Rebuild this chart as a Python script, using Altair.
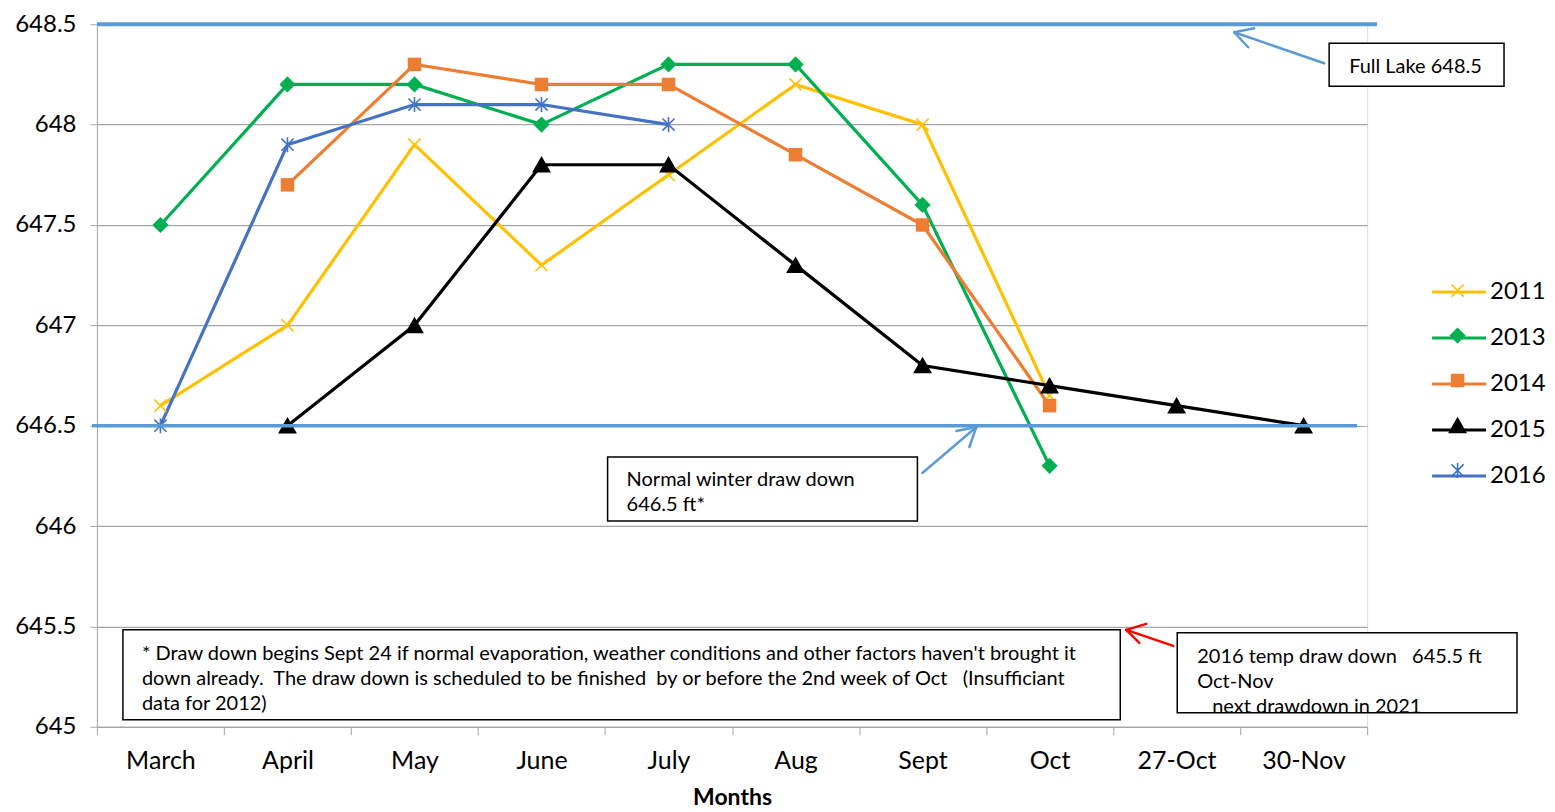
import altair as alt
import pandas as pd

months = ["March", "April", "May", "June", "July", "Aug", "Sept", "Oct", "27-Oct", "30-Nov"]
years = ["2011", "2013", "2014", "2015", "2016"]
colors = ["#FFC000", "#00B050", "#ED7D31", "#000000", "#4472C4"]

v2011 = [646.6, 647.0, 647.9, 647.3, 647.75, 648.2, 648.0, 646.65, None, None]
v2013 = [647.5, 648.2, 648.2, 648.0, 648.3, 648.3, 647.6, 646.3, None, None]
v2014 = [None, 647.7, 648.3, 648.2, 648.2, 647.85, 647.5, 646.6, None, None]
v2015 = [None, 646.5, 647.0, 647.8, 647.8, 647.3, 646.8, 646.7, 646.6, 646.5]
v2016 = [646.5, 647.9, 648.1, 648.1, 648.0, None, None, None, None, None]

y_ticks = [645, 645.5, 646, 646.5, 647, 647.5, 648, 648.5]
full_lake = 648.5
normal_draw = 646.5

# marker shapes (unit box, scaled by sqrt(size)/2), all as filled outlines
X_MARK = ("M-0.408,-0.492L0.492,0.408L0.408,0.492L-0.492,-0.408Z"
          "M-0.492,0.408L0.408,-0.492L0.492,-0.408L-0.408,0.492Z")
shapes = [
    X_MARK,
    "M0,-0.6L0.6,0L0,0.6L-0.6,0Z",
    "M-0.5,-0.5H0.5V0.5H-0.5Z",
    "M0,-0.64L0.7,0.58H-0.7Z",
    X_MARK + "M0.06,-0.56L0.06,0.56L-0.06,0.56L-0.06,-0.56Z",
]

rows = []
for yr, vals in zip(years, [v2011, v2013, v2014, v2015, v2016]):
    for m, v in zip(months, vals):
        if v is not None:
            rows.append({"month": m, "level": v, "year": yr, "yr2": yr})
df = pd.DataFrame(rows)

W, H = 1271, 703
FONT = "Lato"

x_enc = alt.X("month:N", sort=months, scale=alt.Scale(domain=months, paddingInner=0, paddingOuter=0),
              axis=alt.Axis(title="Months", titleFontSize=23, titleFontWeight="bold", titleColor="#000",
                            titlePadding=13, labelFontSize=25, labelColor="#000", labelAngle=0,
                            labelPadding=14, tickBand="extent", tickSize=8, tickColor="#A6A6A6",
                            domainColor="#A6A6A6", grid=False, labelFont=FONT, titleFont=FONT))
y_enc = alt.Y("level:Q", scale=alt.Scale(domain=[645, 648.5], nice=False, zero=False),
              axis=alt.Axis(title=None, values=y_ticks, format="~g", labelFontSize=24, labelColor="#000",
                            labelPadding=14, tickSize=7, tickColor="#A6A6A6", domainColor="#A6A6A6",
                            gridColor="#A6A6A6", gridWidth=1.2, labelFont=FONT))

LEG_X, LEG_Y = 1348, 253

line_legend = alt.Legend(orient="none", legendX=LEG_X, legendY=LEG_Y, title=None,
                         symbolType="M-2,0H2", symbolSize=729, symbolStrokeWidth=3,
                         labelFontSize=24, labelColor="#000", labelFont=FONT, rowPadding=19,
                         labelOffset=16, padding=0, zindex=0)
shape_legend = alt.Legend(orient="none", legendX=LEG_X, legendY=LEG_Y, title=None,
                          symbolSize=729, symbolStrokeWidth=0, symbolOpacity=1,
                          labelExpr="''", labelFontSize=24, labelFont=FONT,
                          rowPadding=19, labelOffset=16, padding=0, zindex=1)

base = alt.Chart(df)

lines = base.mark_line(strokeWidth=3.2).encode(
    x=x_enc, y=y_enc,
    stroke=alt.Stroke("yr2:N", scale=alt.Scale(range=colors), legend=line_legend),
    detail="year:N",
)

points = base.mark_point(size=729, filled=True, opacity=1).encode(
    x=alt.X("month:N", sort=months), y="level:Q",
    color=alt.Color("year:N", scale=alt.Scale(domain=years, range=colors), legend=shape_legend),
    shape=alt.Shape("year:N", scale=alt.Scale(domain=years, range=shapes), legend=shape_legend),
)

# reference lines
ref_full = alt.Chart(pd.DataFrame({"v": [full_lake]})).mark_rule(color="#5B9BD5", strokeWidth=4).encode(
    y="v:Q", x=alt.value(0), x2=alt.value(1281))
ref_norm = alt.Chart(pd.DataFrame({"v": [normal_draw]})).mark_rule(color="#5B9BD5", strokeWidth=3.5).encode(
    y="v:Q", x=alt.value(-5), x2=alt.value(1261))


def seg(x1, y1, x2, y2, color, w=2.5):
    return alt.Chart(pd.DataFrame({"a": [0]})).mark_rule(color=color, strokeWidth=w, strokeCap="round").encode(
        x=alt.value(x1), y=alt.value(y1), x2=alt.value(x2), y2=alt.value(y2))


def box(x1, y1, x2, y2):
    return alt.Chart(pd.DataFrame({"a": [0]})).mark_rect(fill="white", stroke="black", strokeWidth=1.5).encode(
        x=alt.value(x1), y=alt.value(y1), x2=alt.value(x2), y2=alt.value(y2))


def txt(x, y, s, size=20):
    return alt.Chart(pd.DataFrame({"a": [0]})).mark_text(align="left", baseline="middle", fontSize=size,
                                                         font=FONT, color="black").encode(
        x=alt.value(x), y=alt.value(y), text=alt.value(s.replace(" ", "\u00a0")))


BLUE = "#5B9BD5"
arrows = [
    seg(1228, 39, 1138, 8, BLUE), seg(1138, 8, 1158, 4, BLUE), seg(1138, 8, 1152, 23, BLUE),
    seg(826, 449, 880, 403, BLUE), seg(880, 403, 860, 407, BLUE), seg(880, 403, 873, 423, BLUE),
    seg(1077, 622, 1030, 606, "#FF0000"), seg(1030, 606, 1050, 600, "#FF0000"),
    seg(1030, 606, 1043, 619, "#FF0000"),
]

annos = [
    box(1233, 19, 1408, 62), txt(1253, 43, "Full Lake 648.5"),
    box(511, 433, 821, 497), txt(530, 456, "Normal winter draw down"), txt(530, 481, "646.5 ft*"),
    box(26, 606, 1024, 696),
    txt(45, 630, "* Draw down begins Sept 24 if normal evaporation, weather conditions and other factors haven't brought it"),
    txt(45, 655, "down already.  The draw down is scheduled to be finished  by or before the 2nd week of Oct   (Insufficiant"),
    txt(45, 680, "data for 2012)"),
    box(1081, 609, 1421, 689),
    txt(1101, 633, "2016 temp draw down   645.5 ft"), txt(1101, 658, "Oct-Nov"),
    txt(1116, 683, "next drawdown in 2021"),
]

chart = alt.layer(lines, points, ref_full, ref_norm, *arrows, *annos).properties(
    width=W, height=H,
    autosize=alt.AutoSizeParams(type="none"),
    padding={"left": 89, "top": 16, "right": 180, "bottom": 84},
).configure_view(stroke=None).configure(font=FONT)

chart.save("out.html", embed_options={"renderer": "svg", "actions": False})
